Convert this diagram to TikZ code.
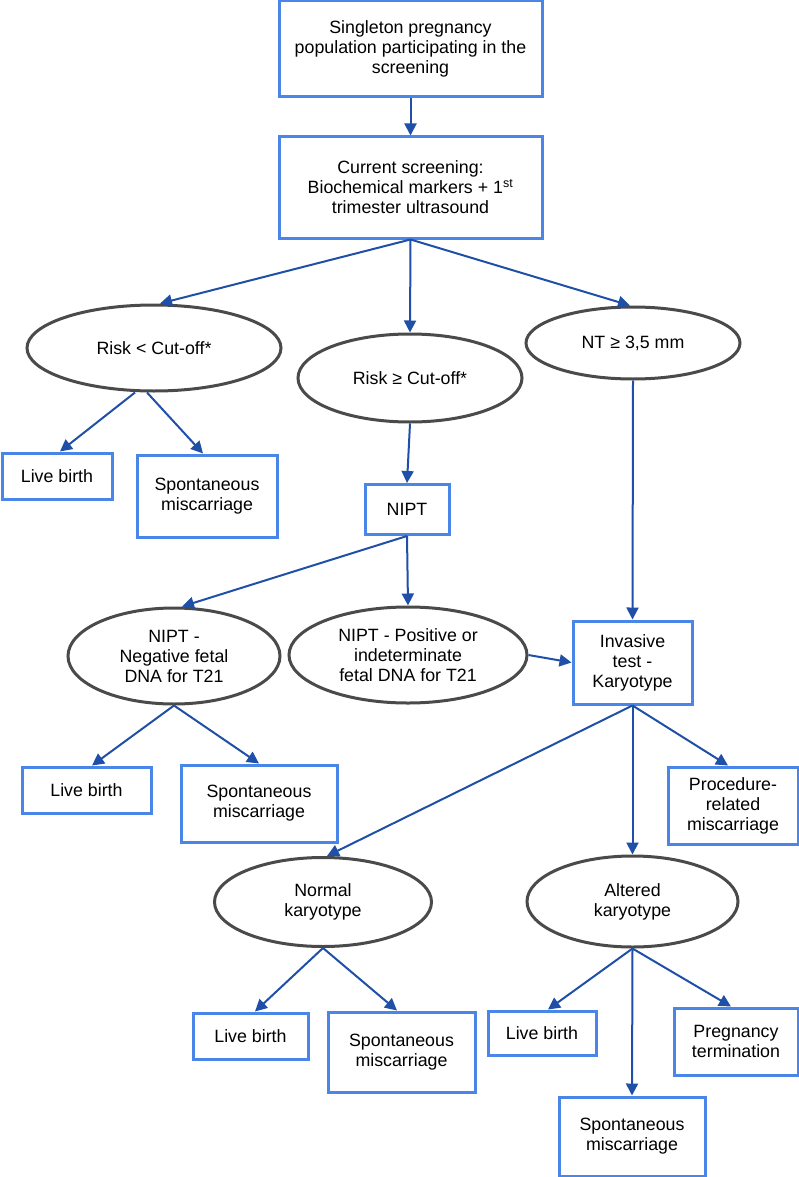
\documentclass[tikz,border=0pt]{standalone}
\usepackage{fontspec}
\setmainfont{Liberation Sans}
\usetikzlibrary{arrows.meta,shapes.geometric}
\definecolor{boxblue}{HTML}{4A86E8}
\definecolor{arrblue}{HTML}{1F4FA6}
\definecolor{ellgray}{HTML}{4A4A4A}
\begin{document}
\begin{tikzpicture}[x=1pt,y=-1pt,
  every node/.style={font=\fontsize{17.8}{20}\selectfont, align=center, inner sep=0pt},
  bx/.style={draw=boxblue, line width=3pt, rectangle, fill=white},
  el/.style={draw=ellgray, line width=3pt, ellipse, fill=white},
  arr/.style={draw=arrblue, line width=2pt, -{Triangle[length=12pt,width=12pt]}}]
\useasboundingbox (0,0) rectangle (799,1177);

% nodes
\node[bx, minimum width=263pt, minimum height=96pt] (top) at (410.5,49) {Singleton pregnancy\\population participating in the\\screening};
\node[bx, minimum width=263pt, minimum height=101pt] (scr) at (410.5,187.5) {Current screening:\\Biochemical markers + 1\textsuperscript{st}\\trimester ultrasound};

\node[el, minimum width=254pt, minimum height=86pt] (riskl) at (154,348) {Risk < Cut-off*};
\node[el, minimum width=224pt, minimum height=88pt] (riskg) at (410,378) {Risk ≥ Cut-off*};
\node[el, minimum width=214pt, minimum height=72pt] (nt) at (633,343) {NT ≥ 3,5 mm};

\node[bx, minimum width=110pt, minimum height=46pt] (lb1) at (57,476) {Live birth};
\node[bx, minimum width=140pt, minimum height=82pt] (sm1) at (207,496) {Spontaneous\\miscarriage};
\node[bx, minimum width=84pt, minimum height=50pt] (nipt) at (407,509.5) {NIPT};

\node[el, minimum width=212pt, minimum height=96pt] (neg) at (174,656) {NIPT -\\Negative fetal\\DNA for T21};
\node[el, minimum width=238pt, minimum height=96pt] (pos) at (408,655) {NIPT - Positive or\\indeterminate\\fetal DNA for T21};
\node[bx, minimum width=119pt, minimum height=83pt] (inv) at (632.5,662.5) {Invasive\\test -\\Karyotype};

\node[bx, minimum width=129pt, minimum height=46pt] (lb2) at (86.5,790) {Live birth};
\node[bx, minimum width=156pt, minimum height=77pt] (sm2) at (259,803.5) {Spontaneous\\miscarriage};
\node[bx, minimum width=130pt, minimum height=77pt] (proc) at (733,805.5) {Procedure-\\related\\miscarriage};

\node[el, minimum width=217pt, minimum height=89pt] (norm) at (323,902) {Normal\\karyotype};
\node[el, minimum width=211pt, minimum height=91pt] (alt) at (632.5,901.5) {Altered\\karyotype};

\node[bx, minimum width=115pt, minimum height=46pt] (lb3) at (250.5,1036) {Live birth};
\node[bx, minimum width=147pt, minimum height=80pt] (sm3) at (401.5,1052) {Spontaneous\\miscarriage};
\node[bx, minimum width=108pt, minimum height=44pt] (lb4) at (542,1033) {Live birth};
\node[bx, minimum width=124pt, minimum height=67pt] (pt) at (736,1041.5) {Pregnancy\\termination};
\node[bx, minimum width=146pt, minimum height=79pt] (sm4) at (632,1136.5) {Spontaneous\\miscarriage};

% connectors
\draw[arr] (top.south) -- (scr.north);
\draw[arr] (scr.south) -- ([xshift=6pt]riskl.north);
\draw[arr] (scr.south) -- (riskg.north);
\draw[arr] (scr.south) -- ([xshift=-3pt]nt.north);
\draw[arr] ([xshift=-19pt]riskl.south) -- ([xshift=3pt]lb1.north);
\draw[arr] ([xshift=-7pt]riskl.south) -- ([xshift=-4pt]sm1.north);
\draw[arr] (riskg.south) -- (nipt.north);
\draw[arr] (nt.south) -- (inv.north);
\draw[arr] (nipt.south) -- ([xshift=8pt]neg.north);
\draw[arr] (nipt.south) -- (pos.north);
\draw[arr] (pos.east) -- (inv.west);
\draw[arr] (neg.south) -- ([xshift=5.5pt]lb2.north);
\draw[arr] (neg.south) -- (sm2.north);
\draw[arr] (inv.south) -- ([xshift=4pt]norm.north);
\draw[arr] (inv.south) -- (alt.north);
\draw[arr] (inv.south) -- ([xshift=-5pt]proc.north);
\draw[arr] (norm.south) -- ([xshift=4.5pt]lb3.north);
\draw[arr] (norm.south) -- ([xshift=-4.5pt]sm3.north);
\draw[arr] (alt.south) -- ([xshift=6pt]lb4.north);
\draw[arr] (alt.south) -- (sm4.north);
\draw[arr] (alt.south) -- ([xshift=-5pt]pt.north);
\end{tikzpicture}
\end{document}
